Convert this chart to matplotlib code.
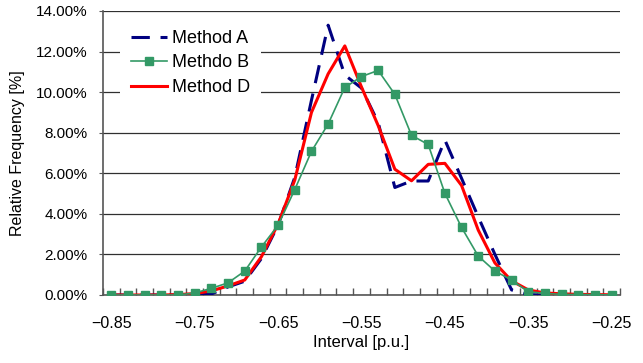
import matplotlib
matplotlib.use("Agg")
import matplotlib.pyplot as plt
from matplotlib.ticker import FixedLocator, FuncFormatter
import warnings
warnings.filterwarnings("ignore")

plt.rcParams['font.family'] = ['Liberation Sans', 'DejaVu Sans']

interval = [-0.85, -0.83, -0.81, -0.79, -0.77, -0.75, -0.73, -0.71, -0.69, -0.67,
            -0.65, -0.63, -0.61, -0.59, -0.57, -0.55, -0.53, -0.51, -0.49, -0.47,
            -0.45, -0.43, -0.41, -0.39, -0.37, -0.35, -0.33, -0.31, -0.29, -0.27, -0.25]

method_a = [0, 0, 0, 0, 0, 0, 0.05, 0.4, 0.68, 1.8,
            3.45, 5.8, 9.6, 13.3, 10.84, 10.2, 8.5, 5.3, 5.62, 5.62,
            7.64, 5.75, 3.85, 2.0, 0.25, 0.02, 0, 0, 0, 0, 0]

method_b = [0, 0, 0, 0, 0, 0.1, 0.33, 0.6, 1.18, 2.37,
            3.44, 5.2, 7.08, 8.43, 10.23, 10.77, 11.07, 9.89, 7.87, 7.42,
            5.01, 3.33, 1.92, 1.18, 0.74, 0.16, 0.08, 0.03, 0.02, 0.02, 0]

method_d = [0, 0, 0, 0, 0.02, 0.07, 0.2, 0.45, 0.74, 1.89,
            3.5, 5.67, 9.0, 10.9, 12.28, 10.25, 8.35, 6.2, 5.63, 6.44,
            6.49, 5.4, 3.2, 1.58, 0.7, 0.25, 0.1, 0.06, 0.03, 0.02, 0.01]

labels = ["Method A", "Methdo B", "Method D"]
x_labels = [-0.85, -0.75, -0.65, -0.55, -0.45, -0.35, -0.25]
y_ticks = [0, 2, 4, 6, 8, 10, 12, 14]

fig = plt.figure(figsize=(6.43, 3.63), dpi=100)
ax = fig.add_axes([103/643, 1-295/363, (620-103)/643, (295-11)/363])

ax.plot(interval, method_a, color='#000080', lw=2.2, dashes=(6, 3.5), label=labels[0], zorder=3)
ax.plot(interval, method_b, color='#339966', lw=1.2, marker='s', markersize=6,
        markeredgecolor='#339966', markerfacecolor='#339966', label=labels[1], zorder=5)
ax.plot(interval, method_d, color='#FF0000', lw=2.2, label=labels[2], zorder=4)

ax.set_xlim(-0.86, -0.24)
ax.set_ylim(0, 14)

ax.xaxis.set_major_locator(FixedLocator(x_labels))
ax.xaxis.set_major_formatter(FuncFormatter(lambda v, p: f"\u2212{abs(v):.2f}"))
minor_x = [interval[0] - 0.01 + 0.02 * i for i in range(len(interval) + 1)]
ax.xaxis.set_minor_locator(FixedLocator(minor_x))
ax.tick_params(axis='x', which='major', length=0, pad=15, labelsize=11.5)
ax.tick_params(axis='x', which='minor', length=5, direction='in', color='#555555', width=1)

ax.yaxis.set_major_locator(FixedLocator(y_ticks))
ax.yaxis.set_major_formatter(FuncFormatter(lambda v, p: f"{v:.2f}%"))
ax.tick_params(axis='y', which='major', length=3, direction='out', color='#555555', labelsize=11, pad=8)

ax.grid(axis='y', color='#303030', lw=0.9, zorder=1)
ax.set_axisbelow(True)

for s in ['top', 'right']:
    ax.spines[s].set_visible(False)
for s in ['left', 'bottom']:
    ax.spines[s].set_color('#555555')
    ax.spines[s].set_linewidth(1.2)

ax.set_xlabel("Interval [p.u.]", fontsize=12, labelpad=3)
ax.set_ylabel("Relative Frequency [%]", fontsize=11.5, labelpad=8)

leg = ax.legend(loc='upper left', bbox_to_anchor=(120/643, 1-19/363),
                bbox_transform=fig.transFigure, fontsize=13, frameon=True,
                fancybox=False, edgecolor='none', facecolor='white', framealpha=1,
                handlelength=2.0, handletextpad=0.28, labelspacing=0.42,
                borderpad=0.6, borderaxespad=0)

fig.savefig("out.png", dpi=100)
